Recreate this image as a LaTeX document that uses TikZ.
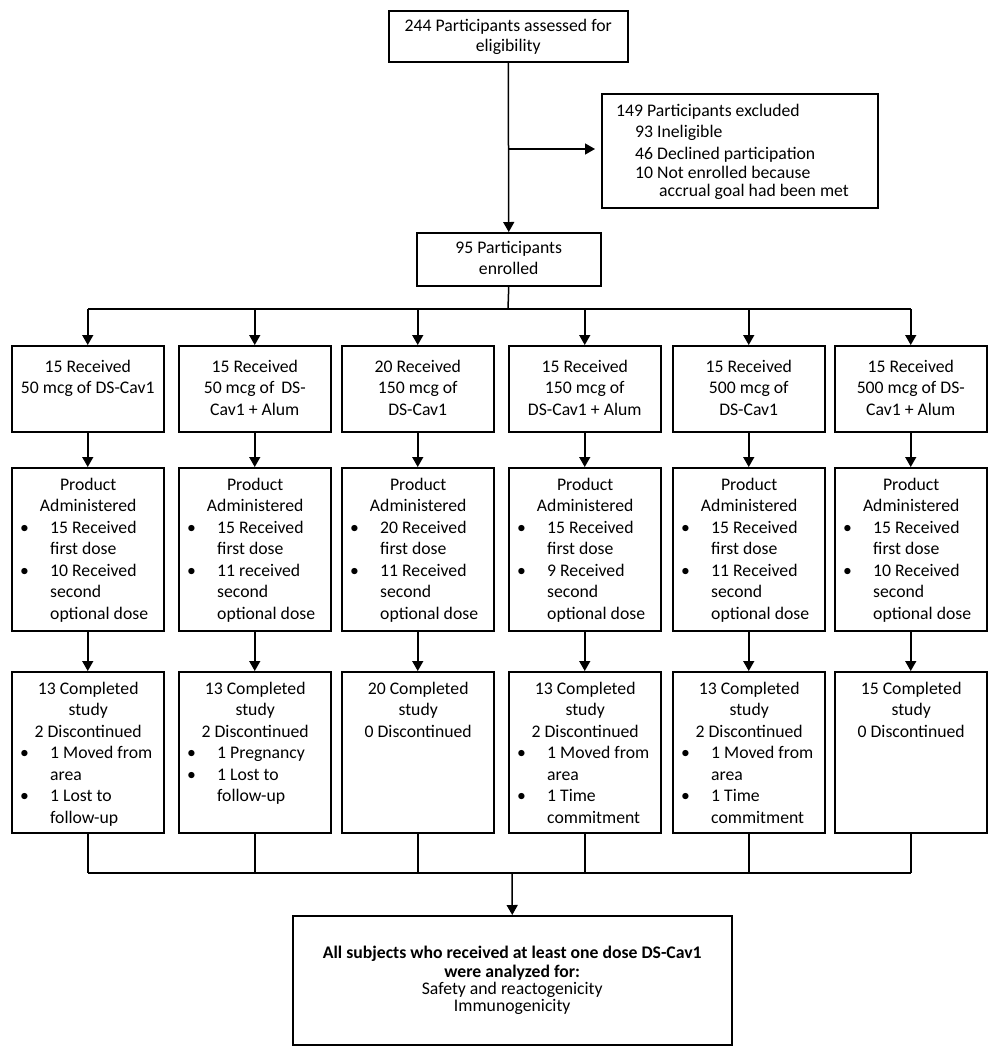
\documentclass[tikz,border=0pt]{standalone}
\usepackage{fontspec}
\setmainfont{Carlito}
\usetikzlibrary{arrows.meta}
\newcommand\bul{\makebox[30pt][l]{\textbullet}}
\newcommand\ind{\hspace*{30pt}}
\newcommand\ctr[1]{\makebox[136pt][c]{#1}}
\begin{document}
\begin{tikzpicture}[x=1pt,y=-1pt,
  box/.style={draw, line width=1.5pt, inner sep=0, anchor=north west, minimum width=152pt},
  r1/.style={box, minimum height=86pt},
  r2/.style={box, minimum height=163pt},
  r3/.style={box, minimum height=161pt},
  txt/.style={inner sep=0, font=\fontsize{17.7}{21.5}\selectfont},
  ctxt/.style={txt, align=center, anchor=north},
  ltxt/.style={txt, align=left, anchor=north west},
  ln/.style={line width=1.5pt},
  arr/.style={line width=1.5pt, -{Triangle[length=10pt,width=11pt]}}
]
\useasboundingbox (0,0) rectangle (988,1050);
\fill[white] (0,0) rectangle (988,1050);

% top boxes
\node[box, minimum width=239pt, minimum height=51pt] (top) at (388,10) {};
\node[ctxt] (toptxt) at ([yshift=-5.95pt]top.north) {\strut 244 Participants assessed for\\[-1.5pt]eligibility};

\node[box, minimum width=276pt, minimum height=114pt] (excl) at (601,93) {};
\node[ltxt] (excltxt) at ([xshift=15pt,yshift=-7.95pt]excl.north west)
  {\strut 149 Participants excluded\\
   \hspace*{19pt}93 Ineligible\\
   \hspace*{19pt}46 Declined participation\\[-2.5pt]
   \hspace*{19pt}10 Not enrolled because\\[-3.5pt]
   \hspace*{43pt}accrual goal had been met};

\node[box, minimum width=184pt, minimum height=53pt] (enr) at (416,232) {};
\node[ctxt] (enrtxt) at ([yshift=-5.95pt]enr.north) {\strut 95 Participants\\enrolled};

% row 1
\node[r1] (r1a) at (11,345) {};
\node[r1] (r1b) at (178,345) {};
\node[r1] (r1c) at (341,345) {};
\node[r1] (r1d) at (508,345) {};
\node[r1] (r1e) at (672,345) {};
\node[r1] (r1f) at (834,345) {};
\node[ctxt] (t1a) at ([yshift=-11.95pt]r1a.north) {\strut 15 Received\\50 mcg of DS-Cav1};
\node[ctxt] (t1b) at ([yshift=-11.95pt]r1b.north) {\strut 15 Received\\50 mcg of\, DS-\\Cav1 + Alum};
\node[ctxt] (t1c) at ([yshift=-11.95pt]r1c.north) {\strut 20 Received\\150 mcg of\\DS-Cav1};
\node[ctxt] (t1d) at ([yshift=-11.95pt]r1d.north) {\strut 15 Received\\150 mcg of\\DS-Cav1 + Alum};
\node[ctxt] (t1e) at ([yshift=-11.95pt]r1e.north) {\strut 15 Received\\500 mcg of\\DS-Cav1};
\node[ctxt] (t1f) at ([yshift=-11.95pt]r1f.north) {\strut 15 Received\\500 mcg of DS-\\Cav1 + Alum};

% row 2
\foreach \c/\x in {a/11,b/178,c/341,d/508,e/672,f/834}
  \node[r2] (r2\c) at (\x,467) {};
\foreach \c/\n/\m in {a/15/10 Received,b/15/11 received,c/20/11 Received,d/15/9 Received,e/15/11 Received,f/15/10 Received}
  \node[ltxt] (t2\c) at ([xshift=9pt,yshift=-7.95pt]r2\c.north west)
  {\strut\ctr{Product}\\\ctr{Administered}\\\bul \n{} Received\\\ind first dose\\\bul \m\\\ind second\\\ind optional dose};

% row 3
\foreach \c/\x in {a/11,b/178,c/341,d/508,e/672,f/834}
  \node[r3] (r3\c) at (\x,671) {};
\node[ltxt] (t3a) at ([xshift=9pt,yshift=-7.95pt]r3a.north west)
  {\strut\ctr{13 Completed}\\\ctr{study}\\\ctr{2 Discontinued}\\\bul 1 Moved from\\\ind area\\\bul 1 Lost to\\\ind follow-up};
\node[ltxt] (t3b) at ([xshift=9pt,yshift=-7.95pt]r3b.north west)
  {\strut\ctr{13 Completed}\\\ctr{study}\\\ctr{2 Discontinued}\\\bul 1 Pregnancy\\\bul 1 Lost to\\\ind follow-up};
\node[ltxt] (t3c) at ([xshift=9pt,yshift=-7.95pt]r3c.north west)
  {\strut\ctr{20 Completed}\\\ctr{study}\\\ctr{0 Discontinued}};
\node[ltxt] (t3d) at ([xshift=9pt,yshift=-7.95pt]r3d.north west)
  {\strut\ctr{13 Completed}\\\ctr{study}\\\ctr{2 Discontinued}\\\bul 1 Moved from\\\ind area\\\bul 1 Time\\\ind commitment};
\node[ltxt] (t3e) at ([xshift=9pt,yshift=-7.95pt]r3e.north west)
  {\strut\ctr{13 Completed}\\\ctr{study}\\\ctr{2 Discontinued}\\\bul 1 Moved from\\\ind area\\\bul 1 Time\\\ind commitment};
\node[ltxt] (t3f) at ([xshift=9pt,yshift=-7.95pt]r3f.north west)
  {\strut\ctr{15 Completed}\\\ctr{study}\\\ctr{0 Discontinued}};

% final
\node[box, minimum width=439pt, minimum height=129pt] (fin) at (292,915) {};
\node[ctxt, font=\fontsize{17.7}{17.3}\selectfont] (fintxt) at ([yshift=-30.89pt]fin.north)
  {\strut\textbf{All subjects who received at least one dose DS-Cav1}\\\textbf{were analyzed for:}\\Safety and reactogenicity\\Immunogenicity};

% connectors
\coordinate (split) at (508,149);
\coordinate (bus1) at (508,309);
\coordinate (bus2) at (512,873);
\draw[arr] (top.south) -- (enr.north);
\draw[arr, shorten >=6pt] (split) -- (excl.west |- split);
\draw[ln] (enr.south) -- (bus1);
\draw[ln] (r1a.north |- bus1) -- (r1f.north |- bus1);
\foreach \c in {a,b,c,d,e,f}{
  \draw[arr] (r1\c.north |- bus1) -- (r1\c.north);
  \draw[arr] (r1\c.south) -- (r2\c.north);
  \draw[arr] (r2\c.south) -- (r3\c.north);
  \draw[ln] (r3\c.south) -- (r3\c.south |- bus2);
}
\draw[ln] (r3a.south |- bus2) -- (r3f.south |- bus2);
\draw[arr] (bus2) -- (fin.north);
\end{tikzpicture}
\end{document}
